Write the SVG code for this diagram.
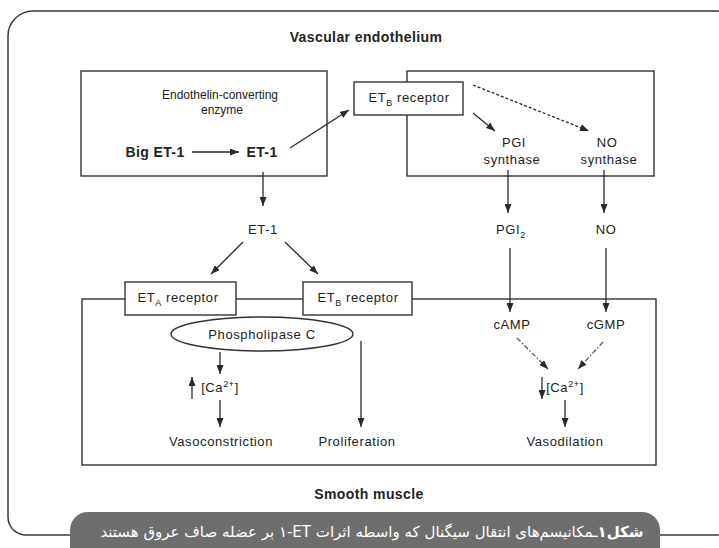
<svg xmlns="http://www.w3.org/2000/svg" width="719" height="548" viewBox="0 0 719 548">
<style>
  .frame{fill:none;stroke:#3a3a3a;stroke-width:1.5}
  .box{fill:#fff;stroke:#333;stroke-width:1.4}
  .open{fill:none;stroke:#333;stroke-width:1.4}
  .c{fill:none;stroke:#2a2a2a;stroke-width:1.3}
  .dash{stroke-dasharray:3 2}
  .dd{stroke:#555;stroke-dasharray:5 2 1.5 2}
  text{font-family:"Liberation Sans",Arial,sans-serif;fill:#222;text-anchor:middle}
  .l{font-size:13px;letter-spacing:0.6px}
  .s{font-size:12px}
  .bd{font-weight:bold;font-size:14px;letter-spacing:0.4px}
  .sub{font-size:9px}
  .fa{font-family:"DejaVu Sans",sans-serif;fill:#fff;font-size:15px}
</style>
<defs>
  <marker id="ah" markerUnits="userSpaceOnUse" markerWidth="9" markerHeight="7" refX="9" refY="3.5" orient="auto" viewBox="0 0 9 7">
    <path d="M0,0 L9,3.5 L0,7 z" fill="#2a2a2a"/>
  </marker>
</defs>

<path class="frame" d="M33,11 H716 A20,20 0 0 1 736,31 V515 A20,20 0 0 1 716,535 H26 A18,18 0 0 1 8,517 V36 A25,25 0 0 1 33,11 Z"/>

<text class="bd" x="366" y="42">Vascular endothelium</text>
<text class="bd" x="369" y="499">Smooth muscle</text>

<g id="ece-box">
  <rect class="open" x="81" y="71" width="246" height="105"/>
  <text class="s" x="220" y="99">Endothelin-converting</text>
  <text class="s" x="222" y="114">enzyme</text>
</g>
<g id="big-et1"><text class="bd" x="155" y="157">Big ET-1</text></g>
<g id="et1-top"><text class="bd" x="262" y="157">ET-1</text></g>

<g id="endo-right-box"><rect class="open" x="407" y="71" width="247" height="105"/></g>
<g id="etb-top">
  <rect class="box" x="354" y="82" width="109" height="33"/>
  <text class="l" x="409" y="102">ET<tspan class="sub" dy="4">B</tspan><tspan dy="-4"> receptor</tspan></text>
</g>
<g id="pgi-synthase">
  <text class="l" x="514" y="147">PGI</text>
  <text class="l" x="512" y="164">synthase</text>
</g>
<g id="no-synthase">
  <text class="l" x="607" y="147">NO</text>
  <text class="l" x="609" y="164">synthase</text>
</g>

<g id="et1-mid"><text class="l" x="263" y="234">ET-1</text></g>
<g id="pgi2"><text class="l" x="511" y="234">PGI<tspan class="sub" dy="4">2</tspan></text></g>
<g id="no"><text class="l" x="606" y="234">NO</text></g>

<g id="smooth-muscle-box"><rect class="open" x="82" y="299" width="574" height="166"/></g>
<g id="eta-receptor">
  <rect class="box" x="125" y="282" width="111" height="33"/>
  <text class="l" x="178" y="302">ET<tspan class="sub" dy="4">A</tspan><tspan dy="-4"> receptor</tspan></text>
</g>
<g id="etb-receptor">
  <rect class="box" x="303" y="282" width="109" height="33"/>
  <text class="l" x="358" y="302">ET<tspan class="sub" dy="4">B</tspan><tspan dy="-4"> receptor</tspan></text>
</g>
<g id="phospholipase-c">
  <ellipse class="box" cx="262" cy="334" rx="91" ry="17"/>
  <text class="l" x="262" y="339">Phospholipase C</text>
</g>
<g id="camp"><text class="l" x="512" y="329">cAMP</text></g>
<g id="cgmp"><text class="l" x="606" y="329">cGMP</text></g>
<g id="ca-up"><text class="l" x="220" y="392">[Ca<tspan class="sub" dy="-5">2+</tspan><tspan dy="5">]</tspan></text></g>
<g id="ca-down"><text class="l" x="565" y="392">[Ca<tspan class="sub" dy="-5">2+</tspan><tspan dy="5">]</tspan></text></g>
<g id="vasoconstriction"><text class="l" x="221" y="446">Vasoconstriction</text></g>
<g id="proliferation"><text class="l" x="357" y="446">Proliferation</text></g>
<g id="vasodilation"><text class="l" x="565" y="446">Vasodilation</text></g>

<g id="connectors">
  <path class="c" marker-end="url(#ah)" d="M192,152 H239"/>
  <path class="c" marker-end="url(#ah)" d="M290,148 L349,110"/>
  <path class="c" marker-end="url(#ah)" d="M263,172 V206"/>
  <path class="c" marker-end="url(#ah)" d="M473,113 L495,131"/>
  <path class="c dash" marker-end="url(#ah)" d="M473,85 L589,131"/>
  <path class="c" marker-end="url(#ah)" d="M508,170 V213"/>
  <path class="c" marker-end="url(#ah)" d="M604,170 V213"/>
  <path class="c" marker-end="url(#ah)" d="M243,242 L211,274"/>
  <path class="c" marker-end="url(#ah)" d="M285,242 L318,274"/>
  <path class="c" marker-end="url(#ah)" d="M510,248 V312"/>
  <path class="c" marker-end="url(#ah)" d="M606,248 V312"/>
  <path class="c dd" marker-end="url(#ah)" d="M517,338 L548,369"/>
  <path class="c dd" marker-end="url(#ah)" d="M603,342 L578,369"/>
  <path class="c" marker-end="url(#ah)" d="M220,352 V374"/>
  <path class="c" marker-end="url(#ah)" d="M220,400 V427"/>
  <path class="c" marker-end="url(#ah)" d="M361,341 V427"/>
  <path class="c" marker-end="url(#ah)" d="M565,400 V427"/>
  <path class="c" marker-end="url(#ah)" d="M192,399 V377"/>
  <path class="c" marker-end="url(#ah)" d="M542,377 V399"/>
</g>

<g id="caption">
  <path d="M70,550 V530 A18,18 0 0 1 88,512 H642 A18,18 0 0 1 660,530 V550 Z" fill="#6e6e6e"/>
  <text class="fa" x="372" y="537" direction="rtl"><tspan font-weight="bold">شکل۱</tspan>ـمکانیسم‌های انتقال سیگنال که واسطه اثرات ET-١ بر عضله صاف عروق هستند</text>
</g>
</svg>
